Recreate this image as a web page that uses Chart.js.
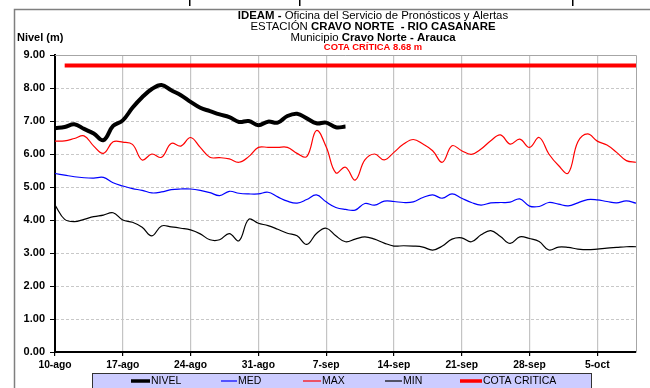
<!DOCTYPE html>
<html><head><meta charset="utf-8">
<script src="https://cdn.jsdelivr.net/npm/chart.js@4"></script>
<style>html,body{margin:0;padding:0;background:#fff;overflow:hidden}</style>
</head><body>
<canvas id="c" width="650" height="388"></canvas>
<script>
// ---- data (day index 0 = 10-ago) ----
const tickLabels = ['10-ago','17-ago','24-ago','31-ago','7-sep','14-sep','21-sep','28-sep','5-oct'];
const nivel = [6.78,6.82,6.90,6.76,6.62,6.42,6.85,7.02,7.40,7.72,7.97,8.09,7.93,7.78,7.58,7.40,7.30,7.20,7.12,6.97,7.00,6.87,6.98,6.95,7.15,7.22,7.08,6.93,6.95,6.81,6.83];
const maxv = [6.39,6.40,6.47,6.55,6.24,6.02,6.37,6.36,6.29,5.82,6.00,5.90,6.32,6.24,6.50,6.20,5.90,5.89,5.85,5.75,5.92,6.20,6.20,6.20,6.20,6.02,5.92,6.71,6.22,5.43,5.60,5.21,5.82,6.00,5.82,6.05,6.30,6.44,6.30,6.10,5.75,6.25,6.10,5.99,6.15,6.40,6.58,6.30,6.45,6.20,6.50,6.00,5.65,5.42,6.37,6.61,6.39,6.27,6.05,5.80,5.75];
const medv = [5.41,5.36,5.31,5.28,5.27,5.29,5.13,5.03,4.95,4.90,4.82,4.85,4.92,4.94,4.94,4.90,4.83,4.74,4.87,4.81,4.79,4.79,4.84,4.70,4.57,4.51,4.62,4.76,4.55,4.38,4.32,4.30,4.50,4.45,4.57,4.56,4.53,4.55,4.68,4.76,4.66,4.79,4.66,4.53,4.45,4.52,4.53,4.54,4.64,4.42,4.41,4.53,4.48,4.43,4.52,4.62,4.61,4.56,4.52,4.58,4.51];
const minv = [4.45,4.02,3.95,4.02,4.10,4.15,4.22,4.00,3.93,3.78,3.52,3.82,3.79,3.75,3.70,3.58,3.40,3.40,3.59,3.37,4.02,3.90,3.83,3.72,3.60,3.52,3.26,3.59,3.75,3.52,3.34,3.42,3.49,3.42,3.30,3.21,3.22,3.21,3.18,3.09,3.21,3.42,3.46,3.34,3.55,3.68,3.50,3.29,3.49,3.44,3.35,3.09,3.18,3.17,3.12,3.10,3.12,3.15,3.17,3.19,3.19];
const cotaDays = [1, 60];
const cotaValues = [8.68, 8.68];
const yTicks = [0,1,2,3,4,5,6,7,8,9];

const FONT = "'Liberation Sans', Arial, sans-serif";
const pts = arr => arr.map((v,i)=>({x:i,y:v}));

const decor = {
  id:'decor',
  beforeDraw(chart){
    const ctx = chart.ctx;
    ctx.save();
    ctx.fillStyle='#fff'; ctx.fillRect(0,0,650,388);
    ctx.fillStyle='#000';
    ctx.font = '16px '+FONT; ctx.textBaseline='alphabetic';
    ctx.fillText('y', 1, -6);
    ctx.fillRect(189,0,1.5,6); ctx.fillRect(299,0,1.5,6); ctx.fillRect(572,0,1.5,6);
    ctx.strokeStyle='#7f7f7f'; ctx.lineWidth=1.5;
    ctx.beginPath(); ctx.moveTo(14.5,400); ctx.lineTo(14.5,9.5); ctx.lineTo(660,9.5); ctx.stroke();
    ctx.restore();
  },
  beforeDatasetsDraw(chart){
    const {ctx, chartArea:a} = chart;
    ctx.save();
    ctx.strokeStyle='#a6a6a6'; ctx.lineWidth=1;
    ctx.beginPath(); ctx.moveTo(a.left, a.top+0.5); ctx.lineTo(a.right+0.5, a.top+0.5); ctx.lineTo(a.right+0.5, a.bottom); ctx.stroke();
    ctx.restore();
  },
  afterDraw(chart){
    const ctx = chart.ctx;
    ctx.save();
    const cx = 373;
    const lines = [
      {y:15.5, segs:[['bold','IDEAM - ','#000',11.4],['normal','Oficina del Servicio de Pronósticos y Alertas','#000',11.4]]},
      {y:27, segs:[['normal','ESTACIÓN ','#000',11.4],['bold','CRAVO NORTE  - RIO CASANARE','#000',11.4]]},
      {y:38, segs:[['normal','Municipio ','#000',11.4],['bold','Cravo Norte - Arauca','#000',11.4]]},
      {y:47.5, segs:[['bold','COTA CRÍTICA 8.68 m','#ff0000',9.4]]}
    ];
    ctx.textBaseline='middle'; ctx.textAlign='left';
    lines.forEach(l=>{
      let w=0;
      l.segs.forEach(s=>{ctx.font=s[0]+' '+s[3]+'px '+FONT; w+=ctx.measureText(s[1]).width;});
      let x = cx - w/2;
      l.segs.forEach(s=>{ctx.font=s[0]+' '+s[3]+'px '+FONT; ctx.fillStyle=s[2]; ctx.fillText(s[1],x,l.y); x+=ctx.measureText(s[1]).width;});
    });
    ctx.font='bold 11px '+FONT; ctx.fillStyle='#000';
    ctx.fillText('Nivel (m)', 17, 38);
    // legend
    ctx.fillStyle='#ccccff'; ctx.fillRect(92.5,373.5,499,15);
    ctx.strokeStyle='#333'; ctx.lineWidth=1; ctx.strokeRect(92.5,373.5,499,15);
    const items = [[131,19],[221,16],[303,18],[385,17],[460,22]];
    const ly = 381;
    chart.data.datasets.forEach((ds,i)=>{
      const [x0,len] = items[i];
      ctx.strokeStyle = ds.borderColor; ctx.lineWidth = Math.min(ds.borderWidth,3.5);
      ctx.beginPath(); ctx.moveTo(x0,ly); ctx.lineTo(x0+len,ly); ctx.stroke();
      ctx.fillStyle='#000'; ctx.font='10.5px '+FONT;
      ctx.fillText(ds.label, x0+len+1, ly+0.5);
    });
    ctx.restore();
  }
};

new Chart(document.getElementById('c'), {
  type:'line',
  data:{ datasets:[
    {label:'NIVEL', data:pts(nivel), borderColor:'#000000', borderWidth:4, tension:0.4, pointRadius:0},
    {label:'MED', data:pts(medv), borderColor:'#0000ff', borderWidth:1.2, tension:0.4, pointRadius:0},
    {label:'MAX', data:pts(maxv), borderColor:'#ff0000', borderWidth:1.2, tension:0.4, pointRadius:0},
    {label:'MIN', data:pts(minv), borderColor:'#000000', borderWidth:1.2, tension:0.4, pointRadius:0},
    {label:'COTA CRITICA', data:cotaDays.map((d,i)=>({x:d,y:cotaValues[i]})), borderColor:'#ff0000', borderWidth:4, tension:0, pointRadius:0}
  ]},
  options:{
    responsive:false, animation:false, devicePixelRatio:1,
    layout:{padding:{left:0,right:14,top:55,bottom:0}},
    plugins:{legend:{display:false}, title:{display:false}, tooltip:{enabled:false}},
    scales:{
      x:{type:'linear', min:0, max:60,
        afterBuildTicks: s=>{ s.ticks = tickLabels.map((_,i)=>({value:i*7})); },
        afterFit: s=>{ s.height = 36; },
        ticks:{callback:v=>tickLabels[Math.round(v/7)] ?? '', font:{family:FONT,size:10.3,weight:'bold'}, color:'#000', padding:3, maxRotation:0, autoSkip:false},
        grid:{color:'#c4c4c4', lineWidth:1.2, tickColor:'#000', tickLength:4},
        border:{color:'#000', width:2}
      },
      y:{min:0, max:9,
        afterBuildTicks: s=>{ s.ticks = yTicks.map(v=>({value:v})); },
        afterFit: s=>{ s.width = 55; },
        ticks:{callback:v=>Number(v).toFixed(2), font:{family:FONT,size:11,weight:'bold'}, color:'#000', padding:5},
        grid:{color:'#c8c8c8', lineWidth:1, tickColor:'#000', tickLength:5, tickBorderDash:[]},
        border:{color:'#000', width:2, dash:[3,2]}
      }
    }
  },
  plugins:[decor]
});
</script>
</body></html>
